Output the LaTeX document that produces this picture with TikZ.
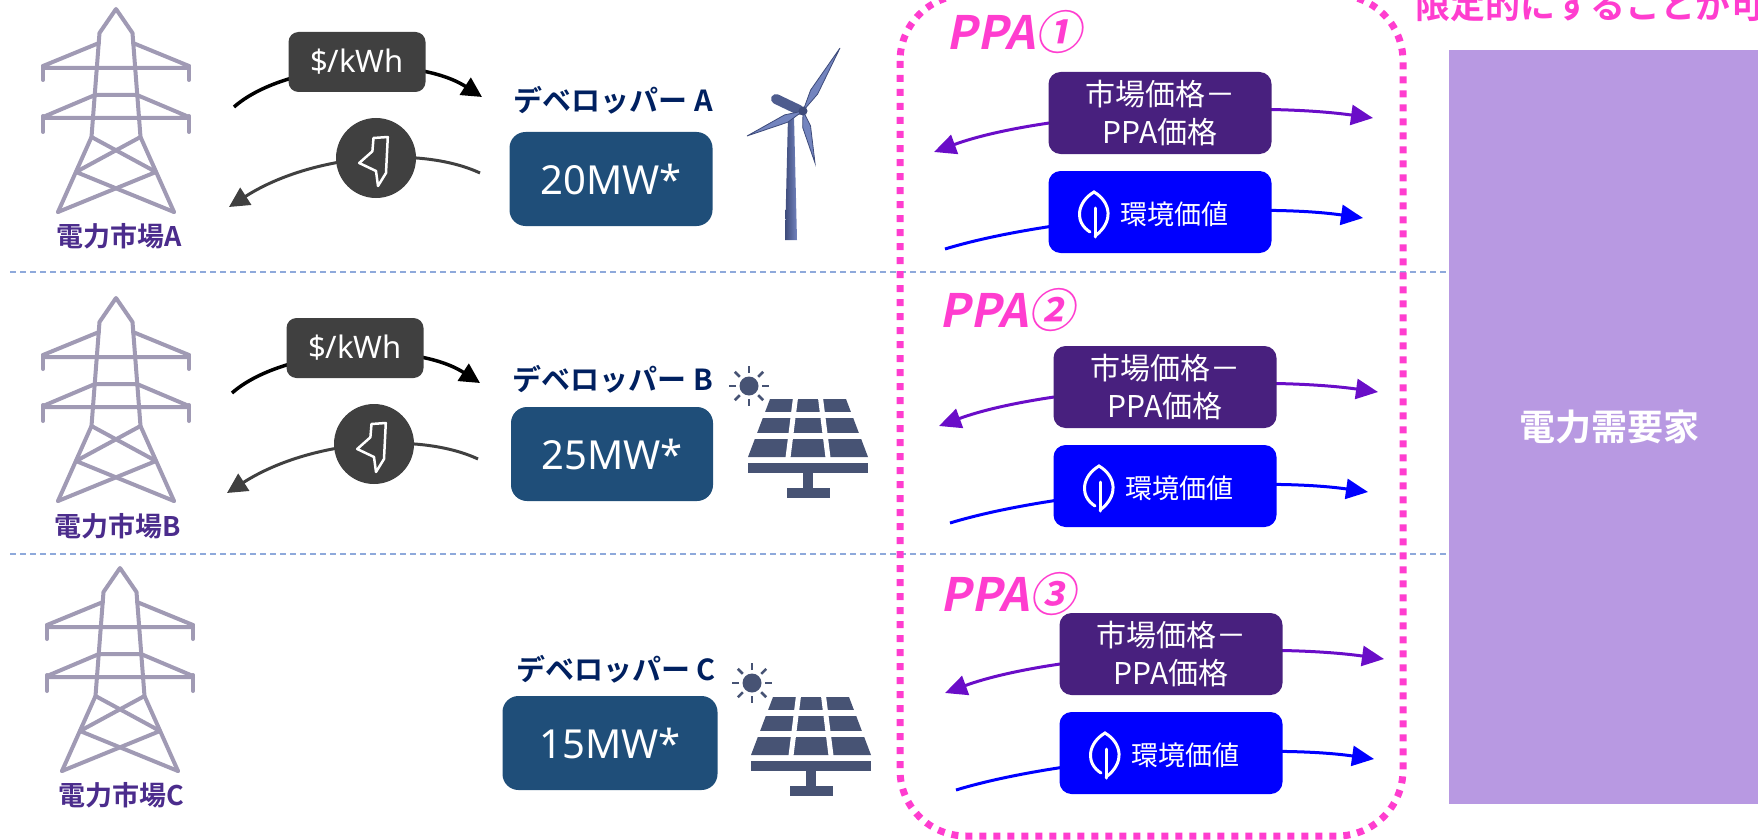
\documentclass[tikz,border=0pt]{standalone}
\usepackage{fontspec}
\setmainfont{Noto Sans CJK JP}[BoldFont={Noto Sans CJK JP Bold}]
\newfontfamily\latinfont{Noto Sans}
\newfontfamily\ppafont{Noto Sans CJK JP Bold}[FakeSlant=0.2]
\usetikzlibrary{arrows.meta}

\definecolor{pyloncol}{HTML}{A09AB4}
\definecolor{mktpurple}{HTML}{4B2C8C}
\definecolor{iconGray}{HTML}{404040}
\definecolor{devnavy}{HTML}{002060}
\definecolor{capblue}{HTML}{1F4E79}
\definecolor{ppapink}{HTML}{FF3DCF}
\definecolor{ppapurple}{HTML}{48207E}
\definecolor{ppaviolet}{HTML}{6A0DC8}
\definecolor{envblue}{HTML}{0000FF}
\definecolor{custlilac}{HTML}{B899E2}
\definecolor{sepblue}{HTML}{8EA9DB}
\definecolor{solarcol}{HTML}{475374}
\definecolor{turbcol}{HTML}{7384BE}
\definecolor{turbdark}{HTML}{3E4B7A}

\tikzset{
  separator/.style={sepblue, line width=1.2pt, dash pattern=on 6pt off 4pt},
  pylonline/.style={pyloncol, line width=4pt, line cap=round, line join=round},
  mktlabel/.style={mktpurple, font=\fontsize{27}{32}\selectfont\bfseries},
  pricebox/.style={fill=iconGray, rounded corners=10pt, minimum width=137pt, minimum height=60pt,
    inner sep=0pt, text=white, font=\latinfont\fontsize{31}{36}\selectfont},
  boltdisc/.style={circle, fill=iconGray, minimum size=80pt, inner sep=0pt},
  priceflow/.style={black, line width=3.5pt, -{Triangle[length=20pt,width=20pt]}},
  powerflow/.style={iconGray, line width=3pt, -{Triangle[length=20pt,width=20pt]}},
  devlabel/.style={devnavy, font=\fontsize{29}{34}\selectfont\bfseries},
  capbox/.style={fill=capblue, rounded corners=16pt, minimum height=94pt, inner sep=0pt,
    text=white, font=\latinfont\fontsize{40}{46}\selectfont},
  ppaframe/.style={ppapink, line width=7pt, dash pattern=on 7pt off 7pt},
  ppalabel/.style={ppapink, font=\ppafont\fontsize{46}{52}\selectfont},
  spreadbox/.style={fill=ppapurple, rounded corners=12pt, minimum width=223pt, minimum height=82pt,
    inner sep=0pt, text=white, align=center, font=\fontsize{30}{38}\selectfont},
  envbox/.style={fill=envblue, rounded corners=12pt, minimum width=223pt, minimum height=82pt, inner sep=0pt},
  envtext/.style={text=white, font=\fontsize{27}{32}\selectfont, inner sep=0pt},
  marketflow/.style={ppaviolet, line width=3pt,
    {Triangle[length=22pt,width=20pt]}-{Triangle[length=22pt,width=20pt]}},
  envflow/.style={envblue, line width=3pt, -{Triangle[length=22pt,width=20pt]}},
  custbox/.style={fill=custlilac, minimum width=321pt, minimum height=754pt, inner sep=0pt,
    text=white, font=\fontsize{36}{42}\selectfont\bfseries},
  note/.style={ppapink, font=\fontsize{35}{40}\selectfont\bfseries, inner sep=0pt},
  % transmission tower, origin at the peak
  pylon/.pic={
    \draw[pylonline] (-58,203) -- (-24.5,128) -- (-16.5,24) -- (0,0) -- (16.5,24) -- (24.5,128) -- (58,203);
    \draw[pylonline] (-17,34) -- (-73,57) (17,34) -- (73,57) (-73,59) -- (73,59);
    \draw[pylonline] (-73,57) -- (-73,71) (73,57) -- (73,71);
    \draw[pylonline] (-21,86) -- (-73,108) (21,86) -- (73,108) (-21,86) -- (21,86) (-73,109) -- (73,109);
    \draw[pylonline] (-73,107) -- (-73,123) (73,107) -- (73,123);
    \draw[pylonline] (-24.5,128) -- (40,163) -- (-58,203);
    \draw[pylonline] (24.5,128) -- (-40,163) -- (58,203);
  },
  % lightning bolt inside the power disc
  bolt/.pic={
    \draw[white, line width=2.5pt, line join=round]
      (-2.5,-20) -- (11.8,-21) -- (10,15) -- (2,28) -- (0,13) -- (-16.8,5) -- (-3.6,-6.7) -- cycle;
  },
  % leaf icon for the environmental value
  leaf/.pic={
    \draw[white, line width=3pt, line cap=round]
      (-4,18) .. controls (-20,8) and (-17,-12) .. (0,-22) .. controls (17,-12) and (20,8) .. (1,22);
    \draw[white, line width=3pt, line cap=round] (1,-6) -- (1,23);
  },
  sun/.pic={
    \fill[solarcol] (0,0) circle (9.5);
    \foreach \a in {0,45,...,315} \draw[solarcol, line width=2.5pt] (\a:13) -- (\a:20);
  },
  % solar panel, origin at the top centre of the cells
  solarpanel/.pic={
    \fill[solarcol] (-38,0) -- (38,0) -- (60,58) -- (-60,58) -- cycle;
    \draw[white, line width=6pt] (-70,16) -- (70,16) (-70,37) -- (70,37);
    \draw[white, line width=5pt] (-12.4,-2) -- (-20.3,61) (12.4,-2) -- (20.3,61);
    \fill[solarcol] (-60,64) rectangle (60,74);
    \fill[solarcol] (-5,74) rectangle (5,89);
    \fill[solarcol] (-21,89) rectangle (22,99);
  },
  % wind turbine, origin at the hub
  turbine/.pic={
    \shade[left color=turbdark, right color=turbcol] (-15,5) -- (-9,5) -- (-6,129) -- (-18,129) -- cycle;
    \draw[turbdark!70!turbcol, line width=10pt, line cap=round] (-27,-12) -- (-4,-1);
    \filldraw[fill=turbcol, draw=turbdark, line width=0.8pt] (0,0) -- (14.6,-16.9) -- (37,-63) -- (7.6,-20.9) -- cycle;
    \filldraw[fill=turbcol, draw=turbdark, line width=0.8pt] (0,0) -- (-15.2,11.2) -- (-56,25) -- (-18.4,3.9) -- cycle;
    \filldraw[fill=turbcol, draw=turbdark, line width=0.8pt] (0,0) -- (7.5,14.7) -- (12,52) -- (-0.3,16.5) -- cycle;
    \fill[turbdark] (0,0) circle (4.5);
  },
}

\begin{document}
\begin{tikzpicture}[x=1pt, y=-1pt]
\useasboundingbox (0,0) rectangle (1758,840);

%--- Row separators ---
\draw[separator] (10,272) -- (1449,272);
\draw[separator] (10,554) -- (1449,554);

%--- Consumer ---
\node[custbox] (cust) at (1609.5,427) {電力需要家};
\node[note, anchor=base west] (note) at (1415,19) {限定的にすることが可能};

%--- PPA frame ---
\draw[ppaframe, rounded corners=66pt] (900,-5) rectangle (1403,836);

%--- Power markets ---
\foreach \m/\x/\y/\lx/\ly in {A/116/9/119/236, B/116/298/118/526, C/120/568/121/795} {
  \pic at (\x,\y) {pylon};
  \node[mktlabel] (mkt\m) at (\lx,\ly) {電力市場\m};
}

%--- Price and power flows ---
\foreach \m/\dx/\dy in {A/0/0, B/-2/286} {
  \begin{scope}[shift={(\dx,\dy)}]
    \coordinate (ps\m) at (234,107);
    \coordinate (pe\m) at (482,97);
    \coordinate (ws\m) at (480,173);
    \coordinate (we\m) at (229,207);
    \draw[priceflow] (ps\m) .. controls (285,62) and (415,54) .. (pe\m);
    \draw[powerflow] (ws\m) .. controls (420,145) and (310,155) .. (we\m);
    \node[pricebox] (price\m) at (357,62) {\$/kWh};
    \node[boltdisc] (bolt\m) at (376,158) {};
    \pic at (bolt\m) {bolt};
  \end{scope}
}

%--- Developers ---
\foreach \m/\lx/\ly/\bx/\by/\w/\mw in {A/613/100/611/179/203/20, B/613/379/612/454/202/25, C/616/669/610/743/215/15} {
  \node[devlabel] (dev\m) at (\lx,\ly) {デベロッパー \m};
  \node[capbox, minimum width=\w pt] (cap\m) at (\bx,\by) {\mw MW*};
}
% Generation assets
\pic at (803,111) {turbine};
\pic at (749,386) {sun};
\pic at (808,399) {solarpanel};
\pic at (752,683) {sun};
\pic at (811,697) {solarpanel};

%--- PPA contracts ---
\foreach \n/\cn/\x/\y in {1/①/1014/32, 2/②/1007/310, 3/③/1008/594}
  \node[ppalabel] (ppa\n) at (\x,\y) {PPA\cn};

\foreach \n/\px/\py in {1/1160/113, 2/1165/387, 3/1171/654} {
  \begin{scope}[shift={(\px,\py)}]
    \coordinate (ml\n) at (-226,39);
    \coordinate (mr\n) at (213,5);
    \coordinate (el\n) at (-215,136);
    \coordinate (er\n) at (203,105);
    % spread settlement and certificates
    \draw[marketflow] (ml\n) .. controls (-120,0) and (90,-12) .. (mr\n);
    \draw[envflow] (el\n) .. controls (-110,104) and (90,89) .. (er\n);
    \node[spreadbox] (spread\n) at (0,0) {市場価格－\\PPA価格};
    \node[envbox] (env\n) at (0,99) {};
    \pic at (-66,101) {leaf};
    \node[envtext] (envtxt\n) at (14,101) {環境価値};
  \end{scope}
}
\end{tikzpicture}
\end{document}
